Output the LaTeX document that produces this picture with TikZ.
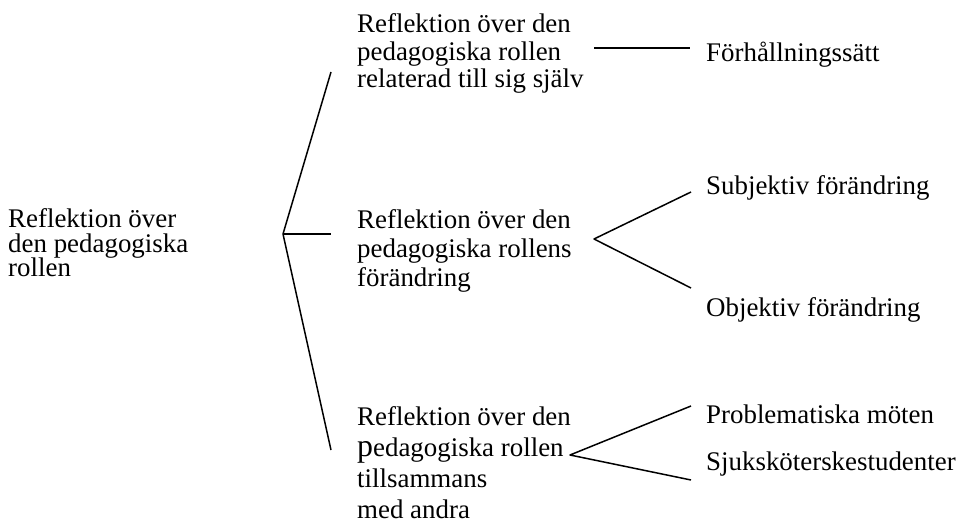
\documentclass[tikz,border=0pt]{standalone}
\usepackage{fontspec}
\setmainfont{Liberation Serif}

\begin{document}
\begin{tikzpicture}[x=1bp, y=-1bp,
    txt/.style={inner sep=0pt, anchor=base west, align=left},
    branch/.style={line width=1.5bp, black, line join=round}]

    % Sizes
    \def\fs{27}     % font size
    \def\xm{357}    % x middle column
    \def\xr{706}    % x right column

    \useasboundingbox (0,0) rectangle (960,524);

    % Root (placed at the baseline of its last line)
    \node[txt, font=\fontsize{\fs}{25}\selectfont] (root) at (8,277)
        {Reflektion över\\den pedagogiska\\rollen};

    % Middle column
    \node[txt, font=\fontsize{\fs}{28}\selectfont] (self) at (\xm,88)
        {Reflektion över den\\pedagogiska rollen\\relaterad till sig själv};
    \node[txt, font=\fontsize{\fs}{29.5}\selectfont] (change) at (\xm,287)
        {Reflektion över den\\pedagogiska rollens\\förändring};
    \node[txt, font=\fontsize{\fs}{31}\selectfont] (others) at (\xm,518)
        {Reflektion över den\\{\fontsize{32}{31}\selectfont p}edagogiska rollen\\tillsammans\\med andra};

    % Right column
    \node[txt, font=\fontsize{\fs}{29}\selectfont] (attitude) at (\xr,62)  {Förhållningssätt};
    \node[txt, font=\fontsize{\fs}{29}\selectfont] (subj)     at (\xr,195) {Subjektiv förändring};
    \node[txt, font=\fontsize{\fs}{29}\selectfont] (obj)      at (\xr,317) {Objektiv förändring};
    \node[txt, font=\fontsize{\fs}{29}\selectfont] (meet)     at (\xr,423) {Problematiska möten};
    \node[txt, font=\fontsize{\fs}{29}\selectfont] (students) at (\xr,470) {Sjuksköterskestudenter};

    % Main fork
    \coordinate (hub)  at (283,234);
    \coordinate (hubA) at (331,72);
    \coordinate (hubB) at (331,234);
    \coordinate (hubC) at (331,450);
    \draw[branch] (hubA) -- (hub) -- (hubC);
    \draw[branch] (hub) -- (hubB);

    % Sub forks
    \coordinate (forkA) at (594,48);
    \coordinate (endA)  at (690,48);
    \draw[branch] (forkA) -- (endA);

    \coordinate (forkB) at (594,239);
    \coordinate (endB1) at (691,192);
    \coordinate (endB2) at (691,288);
    \draw[branch] (endB1) -- (forkB) -- (endB2);

    \coordinate (forkC) at (570,455);
    \coordinate (endC1) at (691,406);
    \coordinate (endC2) at (691,480);
    \draw[branch] (endC1) -- (forkC) -- (endC2);

\end{tikzpicture}
\end{document}
